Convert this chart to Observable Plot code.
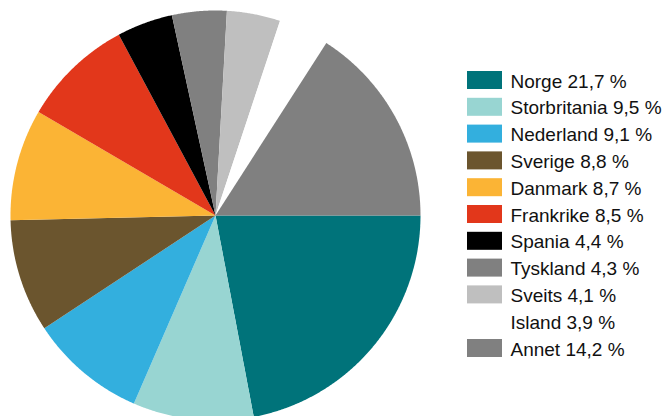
<!DOCTYPE html>
<html>
<head>
<meta charset="utf-8">
<script src="https://cdn.jsdelivr.net/npm/d3@7"></script>
<script src="https://cdn.jsdelivr.net/npm/@observablehq/plot@0.6"></script>
<style>
  html, body { margin: 0; padding: 0; background: #fff; }
</style>
</head>
<body>
<div id="chart"></div>
<script>
// Countries (legend order = clockwise slice order, starting at 3 o'clock)
const names = ["Norge", "Storbritania", "Nederland", "Sverige", "Danmark", "Frankrike",
               "Spania", "Tyskland", "Sveits", "Island", "Annet"];
// Percentages as printed in the legend
const values = [21.7, 9.5, 9.1, 8.8, 8.7, 8.5, 4.4, 4.3, 4.1, 3.9, 14.2];
// Slice sizes (percent of full circle)
const shares = [22.0, 9.5, 9.2, 8.9, 8.8, 8.75, 4.4, 4.3, 4.2, 4.0, 15.9];
const colors = ["#00737a", "#98d5d2", "#33afde", "#6b552e", "#fbb435", "#e2371b",
                "#000000", "#808080", "#bfbfbf", "#ffffff", "#808080"];

const data = names.map((name, i) => ({name, value: values[i], share: shares[i], color: colors[i], i}));

// layout
const W = 667, H = 416;
const cx = 215, cy = 215, R = 205;

const arcs = d3.pie().sort(null).value(d => d.share)
  .startAngle(Math.PI / 2).endAngle(Math.PI / 2 + 2 * Math.PI)(data);

const pts = [];
for (const a of arcs) {
  const d = a.data;
  pts.push({name: d.name, color: d.color, x: cx, y: cy});
  const n = Math.max(2, Math.ceil((a.endAngle - a.startAngle) / 0.005));
  for (let k = 0; k <= n; k++) {
    const t = a.startAngle + (a.endAngle - a.startAngle) * k / n;
    pts.push({name: d.name, color: d.color, x: cx + R * Math.sin(t), y: cy - R * Math.cos(t)});
  }
  pts.push({name: d.name, color: d.color, x: cx, y: cy});
}

const fmt = v => v.toFixed(1).replace(".", ",");
const lx = 467, sw = 35, sh = 18, ly0 = 71, step = 26.8;

const chart = Plot.plot({
  width: W,
  height: H,
  margin: 0,
  x: {type: "identity", axis: null},
  y: {type: "identity", axis: null},
  color: {type: "identity"},
  style: {fontFamily: "'Liberation Sans', Arial, sans-serif", background: "#fff"},
  marks: [
    Plot.line(pts, {x: "x", y: "y", z: "name", fill: "color", stroke: null, curve: "linear"}),
    Plot.rect(data, {
      x1: () => lx, x2: () => lx + sw,
      y1: d => ly0 + d.i * step, y2: d => ly0 + d.i * step + sh,
      fill: "color"
    }),
    Plot.text(data, {
      x: () => lx + sw + 8,
      y: d => ly0 + d.i * step + sh / 2,
      text: d => `${d.name} ${fmt(d.value)} %`,
      textAnchor: "start",
      lineAnchor: "middle",
      dy: 1,
      fontSize: 19,
      fill: "#111"
    })
  ]
});
document.getElementById("chart").appendChild(chart);
</script>
</body>
</html>
